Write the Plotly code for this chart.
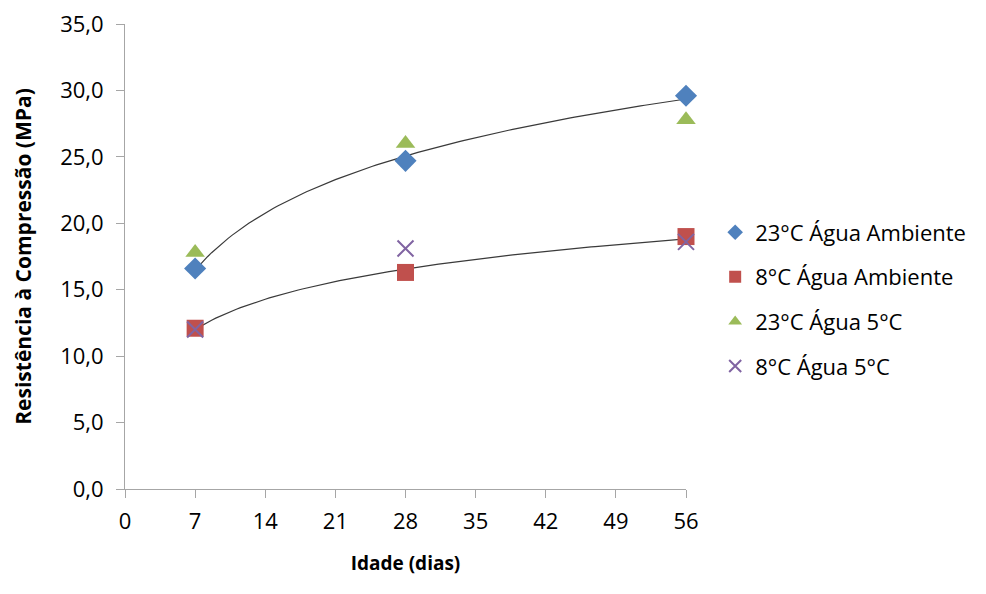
import numpy as np
import plotly.graph_objects as go

idade = [7, 28, 56]
s23_amb = [16.6, 24.7, 29.6]
s8_amb = [12.1, 16.3, 19.0]
s23_5 = [17.8, 26.0, 27.8]
s8_5 = [12.0, 18.1, 18.6]

names = ["23°C Água Ambiente", "8°C Água Ambiente", "23°C Água 5°C", "8°C Água 5°C"]
x_ticks = [0, 7, 14, 21, 28, 35, 42, 49, 56]
y_ticks = [0, 5, 10, 15, 20, 25, 30, 35]

FONT = "Open Sans"

fig = go.Figure()

def log_fit(xv, yv):
    b, a = np.polyfit(np.log(xv), yv, 1)
    xs = np.linspace(min(xv), max(xv), 120)
    return xs, a + b * np.log(xs)

for ys in (s23_amb, s8_amb):
    xs, yf = log_fit(idade, ys)
    fig.add_trace(go.Scatter(x=xs, y=yf, mode="lines",
                             line=dict(color="#3a3a3a", width=1.2),
                             showlegend=False, hoverinfo="skip"))

fig.add_trace(go.Scatter(x=idade, y=s23_amb, mode="markers", name=names[0], legendgroup="a",
                         cliponaxis=False,
                         marker=dict(symbol="diamond", size=17, color="#4F81BD")))
fig.add_trace(go.Scatter(x=idade, y=s8_amb, mode="markers", name=names[1], legendgroup="b",
                         cliponaxis=False,
                         marker=dict(symbol="square", size=17, color="#C0504D")))
fig.add_trace(go.Scatter(x=idade, y=s23_5, mode="markers", name=names[2], legendgroup="c",
                         cliponaxis=False,
                         marker=dict(symbol="triangle-up", size=17, color="#9BBB59")))
fig.add_trace(go.Scatter(x=idade, y=s8_5, mode="markers", name=names[3], legendgroup="d",
                         cliponaxis=False,
                         marker=dict(symbol="x-thin", size=16, color="#8064A2",
                                     line=dict(color="#8064A2", width=2))))

fig.update_layout(
    width=986, height=594,
    margin=dict(l=117, r=308, t=16, b=113, autoexpand=False),
    paper_bgcolor="white", plot_bgcolor="white",
    separators=",.",
    font=dict(family=FONT, size=22, color="#000000"),
    legend=dict(x=1.052, y=0.597, xanchor="left", yanchor="top",
                font=dict(family=FONT, size=22, color="#000000"),
                tracegroupgap=13, itemsizing="constant",
                bgcolor="rgba(0,0,0,0)"),
    xaxis=dict(range=[0, 56], tickvals=x_ticks, ticktext=[str(v) for v in x_ticks],
               automargin=False,
               showgrid=False, zeroline=False, showline=True, linecolor="#A6A6A6",
               linewidth=1, ticks="outside", ticklen=8, tickcolor="#A6A6A6",
               tickfont=dict(family=FONT, size=22), ticklabelstandoff=5,
               ticklabeloverflow="allow",
               title=dict(text="<b>Idade (dias)</b>", font=dict(family=FONT, size=19), standoff=22)),
    yaxis=dict(range=[0, 35], tickvals=y_ticks, tickformat=".1f",
               automargin=False,
               showgrid=False, zeroline=False, showline=True, linecolor="#A6A6A6",
               linewidth=1, ticks="outside", ticklen=8, tickcolor="#A6A6A6",
               tickfont=dict(family=FONT, size=22), ticklabelstandoff=8,
               ticklabeloverflow="allow",
               title=dict(text="<b>Resistência à Compressão (MPa)</b>", font=dict(family=FONT, size=21), standoff=22)),
)

fig.write_html("out.html")
